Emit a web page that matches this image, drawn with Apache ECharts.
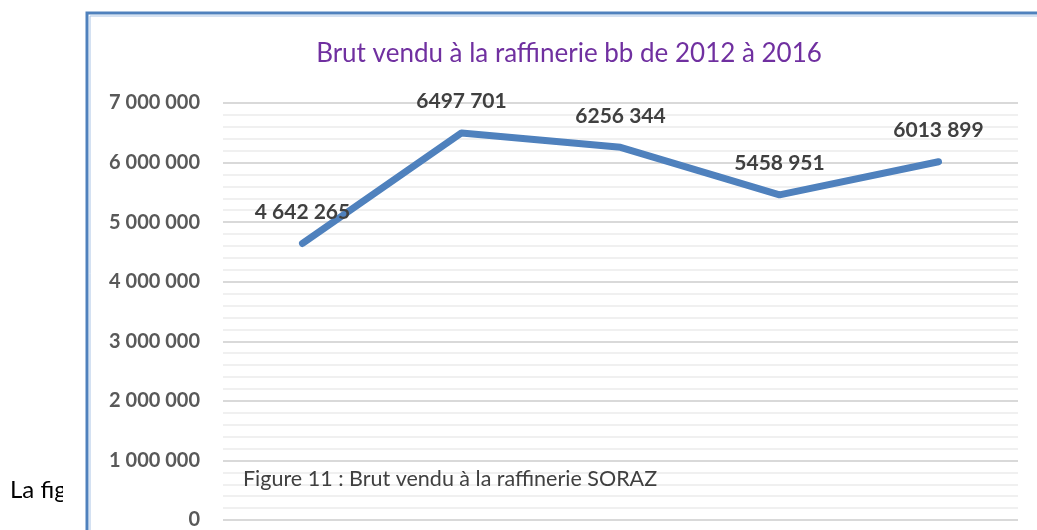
<!DOCTYPE html>
<html>
<head>
<meta charset="utf-8">
<script src="https://cdn.jsdelivr.net/npm/echarts@6/dist/echarts.min.js"></script>
<style>
  html, body { margin: 0; padding: 0; background: #fff; }
  #chart { width: 1037px; height: 530px; }
</style>
</head>
<body>
<div id="chart"></div>
<script>
const years = ["2012", "2013", "2014", "2015", "2016"];
const brutVendu = [4642265, 6497701, 6256344, 5458951, 6013899];
const pointLabels = ["4 642 265", "6497 701", "6256 344", "5458 951", "6013 899"];
const yTicks = [0, 1000000, 2000000, 3000000, 4000000, 5000000, 6000000, 7000000];

const font = "Lato, 'Open Sans', sans-serif";

function spaced(v) {
  return String(v).replace(/\B(?=(\d{3})+(?!\d))/g, " ");
}

const chart = echarts.init(document.getElementById("chart"));

const option = {
  animation: false,
  backgroundColor: "#ffffff",
  title: {
    text: "Brut vendu à la raffinerie bb de 2012 à 2016",
    left: 564,
    textAlign: "center",
    top: 36,
    textStyle: {
      color: "#7030a0",
      fontFamily: font,
      fontWeight: "normal",
      fontSize: 26
    }
  },
  grid: {
    left: 223,
    right: 19,
    top: 103,
    bottom: 7
  },
  xAxis: {
    type: "category",
    data: years,
    boundaryGap: true,
    axisLine: { show: false },
    axisTick: { show: false },
    axisLabel: { show: false }
  },
  yAxis: {
    type: "value",
    min: yTicks[0],
    max: yTicks[yTicks.length - 1],
    interval: 1000000,
    axisLine: { show: false },
    axisTick: { show: false },
    axisLabel: {
      margin: 23,
      color: "#595959",
      fontFamily: font,
      fontWeight: "bold",
      fontSize: 20,
      formatter: v => spaced(v)
    },
    splitLine: {
      lineStyle: { color: "#d9d9d9", width: 2 }
    },
    minorTick: { show: false, splitNumber: 5 },
    minorSplitLine: {
      show: true,
      lineStyle: { color: "#f0f0f0", width: 2 }
    }
  },
  series: [
    {
      type: "line",
      data: brutVendu,
      symbol: "circle",
      symbolSize: 2,
      showSymbol: true,
      itemStyle: { color: "rgba(79,129,189,0)" },
      lineStyle: { color: "#4f81bd", width: 7, cap: "round", join: "round" },
      label: {
        show: true,
        position: "top",
        distance: 20,
        color: "#404040",
        fontFamily: font,
        fontWeight: "bold",
        fontSize: 21,
        formatter: p => pointLabels[p.dataIndex]
      }
    }
  ],
  graphic: [
    {
      type: "text",
      z: 100,
      left: 10,
      top: 478,
      style: {
        text: "La fig",
        fill: "#000000",
        font: "24px " + font
      }
    },
    {
      type: "rect",
      z: 100,
      shape: { x: 63, y: 300, width: 30, height: 230 },
      style: { fill: "#ffffff" }
    },
    {
      type: "rect",
      z: 100,
      shape: { x: 87, y: 13, width: 1000, height: 600 },
      style: { fill: "none", stroke: "#4f81bd", lineWidth: 3 }
    },
    {
      type: "rect",
      z: 100,
      shape: { x: 90, y: 16, width: 1000, height: 600 },
      style: { fill: "none", stroke: "#a9c4e6", lineWidth: 1 }
    },
    {
      type: "text",
      z: 100,
      left: 243,
      top: 468,
      style: {
        text: "Figure 11 : Brut vendu à la raffinerie SORAZ",
        fill: "#404040",
        font: "21.5px " + font
      }
    }
  ]
};

chart.setOption(option);
</script>
</body>
</html>
